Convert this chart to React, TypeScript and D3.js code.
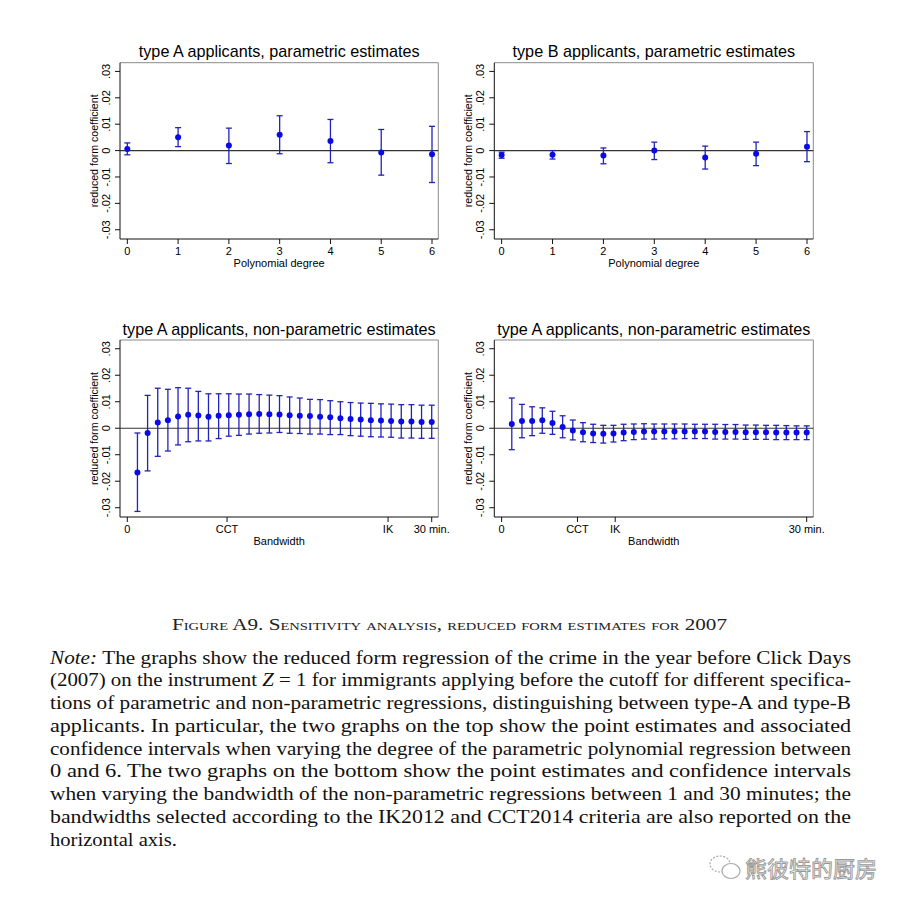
import React from "react";
import * as d3 from "d3";

// ---------- data ----------
const degrees = [0, 1, 2, 3, 4, 5, 6];
const paramA_est = [0.0006, 0.0051, 0.0019, 0.006, 0.0036, -0.0007, -0.0014];
const paramA_hi = [0.0029, 0.0087, 0.0085, 0.0132, 0.0118, 0.008, 0.0092];
const paramA_lo = [-0.0016, 0.0015, -0.0049, -0.0012, -0.0046, -0.0093, -0.0121];

const paramB_est = [-0.0017, -0.0016, -0.0019, 0.0, -0.0026, -0.0012, 0.0015];
const paramB_hi = [-0.0006, 0.0, 0.001, 0.0032, 0.0017, 0.0032, 0.0072];
const paramB_lo = [-0.0029, -0.0032, -0.005, -0.0034, -0.007, -0.0057, -0.0042];

const bandwidths = [1, 2, 3, 4, 5, 6, 7, 8, 9, 10, 11, 12, 13, 14, 15, 16, 17, 18, 19, 20, 21, 22, 23, 24, 25, 26, 27, 28, 29, 30];
const npA_est = [-0.0167, -0.0018, 0.0022, 0.003, 0.0044, 0.0051, 0.0048, 0.0043, 0.0047, 0.0049, 0.0051, 0.0053, 0.0054, 0.0053, 0.0052, 0.0049, 0.0047, 0.0046, 0.0043, 0.0041, 0.0038, 0.0035, 0.0033, 0.003, 0.0029, 0.0027, 0.0025, 0.0025, 0.0024, 0.0024];
const npA_hi = [-0.0018, 0.0124, 0.0151, 0.0147, 0.0153, 0.0151, 0.0139, 0.013, 0.013, 0.013, 0.0129, 0.0129, 0.0127, 0.0125, 0.0123, 0.0118, 0.0114, 0.0109, 0.0108, 0.0104, 0.01, 0.0097, 0.0095, 0.0094, 0.0092, 0.0091, 0.0089, 0.0089, 0.0087, 0.0087];
const npA_lo = [-0.0314, -0.0161, -0.0106, -0.0086, -0.0063, -0.0051, -0.0048, -0.0048, -0.0039, -0.003, -0.0027, -0.0022, -0.0019, -0.0018, -0.0016, -0.0019, -0.002, -0.0022, -0.0022, -0.0024, -0.0024, -0.0028, -0.003, -0.0032, -0.0033, -0.0034, -0.0037, -0.0037, -0.0038, -0.0038];

const npB_est = [0.0016, 0.0027, 0.0027, 0.003, 0.002, 0.0005, -0.0009, -0.0015, -0.002, -0.0021, -0.002, -0.0016, -0.0014, -0.0012, -0.0012, -0.0012, -0.0012, -0.0012, -0.0012, -0.0012, -0.0014, -0.0014, -0.0014, -0.0015, -0.0015, -0.0015, -0.0016, -0.0016, -0.0016, -0.0016];
const npB_hi = [0.0114, 0.009, 0.0081, 0.0077, 0.0064, 0.0047, 0.0031, 0.0021, 0.0015, 0.0011, 0.0011, 0.0015, 0.0016, 0.0017, 0.0016, 0.0016, 0.0016, 0.0016, 0.0015, 0.0015, 0.0015, 0.0014, 0.0014, 0.0012, 0.0012, 0.0011, 0.0011, 0.001, 0.0009, 0.0009];
const npB_lo = [-0.0081, -0.0036, -0.0028, -0.0019, -0.0023, -0.0036, -0.0044, -0.0051, -0.0054, -0.0056, -0.0052, -0.0047, -0.0043, -0.0041, -0.0041, -0.004, -0.004, -0.0039, -0.0039, -0.0039, -0.0041, -0.0041, -0.0041, -0.0042, -0.0042, -0.0042, -0.0043, -0.0043, -0.0043, -0.0043];

const yTicks = [-0.03, -0.02, -0.01, 0, 0.01, 0.02, 0.03];
const yTickLabels = ["-.03", "-.02", "-.01", "0", ".01", ".02", ".03"];
const degreeTickLabels = ["0", "1", "2", "3", "4", "5", "6"];
const npA_xTicks = [0, 9.83, 25.7, 30];
const npB_xTicks = [0, 7.46, 11.17, 30];
const bwTickLabels = ["0", "CCT", "IK", "30 min."];

const titles = [
  "type A applicants, parametric estimates",
  "type B applicants, parametric estimates",
  "type A applicants, non-parametric estimates",
  "type A applicants, non-parametric estimates",
];
const xLabels = ["Polynomial degree", "Bandwidth"];
const yLabel = "reduced form coefficient";

const caption = "Figure A9. Sensitivity analysis, reduced form estimates for 2007";
const noteLines = [
  "The graphs show the reduced form regression of the crime in the year before Click Days",
  "(2007) on the instrument |Z| = 1 for immigrants applying before the cutoff for different specifica-",
  "tions of parametric and non-parametric regressions, distinguishing between type-A and type-B",
  "applicants.  In particular, the two graphs on the top show the point estimates and associated",
  "confidence intervals when varying the degree of the parametric polynomial regression between",
  "0 and 6.  The two graphs on the bottom show the point estimates and confidence intervals",
  "when varying the bandwidth of the non-parametric regressions between 1 and 30 minutes; the",
  "bandwidths selected according to the IK2012 and CCT2014 criteria are also reported on the",
  "horizontal axis.",
];
const watermark = "熊彼特的厨房";

// ---------- components ----------
const SANS = "'Liberation Sans', Arial, Helvetica, sans-serif";
const SERIF = "'Liberation Serif', 'Times New Roman', serif";
const PT = "#0a0ae6";
const CI = "#2323b8";

type PanelProps = {
  x0: number; x1: number; y0: number; y1: number;
  title: string; xLabel: string;
  xDomain: [number, number];
  xTicks: number[]; xTickLabels: string[];
  xs: number[]; est: number[]; lo: number[]; hi: number[];
};

function Panel(p: PanelProps) {
  const x = d3.scaleLinear().domain(p.xDomain).range([p.x0, p.x1]);
  const y = d3.scaleLinear().domain([-0.0335, 0.0333]).range([p.y1, p.y0]);
  const cx = (p.x0 + p.x1) / 2;
  return (
    <g>
      <text x={cx} y={p.y0 - 5.5} textAnchor="middle" fontFamily={SANS} fontSize={16.2} fill="#000">{p.title}</text>
      {/* frame */}
      <line x1={p.x0} x2={p.x1} y1={p.y0} y2={p.y0} stroke="#8a8a8a" strokeWidth={1} />
      <line x1={p.x1} x2={p.x1} y1={p.y0} y2={p.y1} stroke="#8a8a8a" strokeWidth={1} />
      <line x1={p.x0} x2={p.x0} y1={p.y0} y2={p.y1} stroke="#111" strokeWidth={1} />
      <line x1={p.x0} x2={p.x1} y1={p.y1} y2={p.y1} stroke="#111" strokeWidth={1} />
      {/* y ticks */}
      {yTicks.map((t, i) => (
        <g key={"yt" + i}>
          <line x1={p.x0 - 5} x2={p.x0} y1={y(t)} y2={y(t)} stroke="#111" strokeWidth={1} />
          <text transform={`translate(${p.x0 - 10},${y(t)}) rotate(-90)`} textAnchor="middle" fontFamily={SANS} fontSize={11} fill="#000">{yTickLabels[i]}</text>
        </g>
      ))}
      <text transform={`translate(${p.x0 - 22},${(p.y0 + p.y1) / 2}) rotate(-90)`} textAnchor="middle" fontFamily={SANS} fontSize={10.6} fill="#000">{yLabel}</text>
      {/* x ticks */}
      {p.xTicks.map((t, i) => (
        <g key={"xt" + i}>
          <line x1={x(t)} x2={x(t)} y1={p.y1} y2={p.y1 + 5} stroke="#111" strokeWidth={1} />
          <text x={x(t)} y={p.y1 + 15.5} textAnchor="middle" fontFamily={SANS} fontSize={11} fill="#000">{p.xTickLabels[i]}</text>
        </g>
      ))}
      <text x={cx} y={p.y1 + 27.5} textAnchor="middle" fontFamily={SANS} fontSize={11} fill="#000">{p.xLabel}</text>
      {/* zero line */}
      <line x1={p.x0} x2={p.x1} y1={y(0)} y2={y(0)} stroke="#333" strokeWidth={1.1} />
      {/* CIs */}
      {p.xs.map((v, i) => {
        const xx = x(v);
        return (
          <g key={"ci" + i} stroke={CI} strokeWidth={1.3}>
            <line x1={xx} x2={xx} y1={y(p.hi[i])} y2={y(p.lo[i])} />
            <line x1={xx - 3} x2={xx + 3} y1={y(p.hi[i])} y2={y(p.hi[i])} />
            <line x1={xx - 3} x2={xx + 3} y1={y(p.lo[i])} y2={y(p.lo[i])} />
          </g>
        );
      })}
      {p.xs.map((v, i) => (
        <circle key={"pt" + i} cx={x(v)} cy={y(p.est[i])} r={3} fill={PT} />
      ))}
    </g>
  );
}

function NoteLine({ text, y, first, last }: { text: string; y: number; first: boolean; last: boolean }) {
  const parts = text.split("|");
  return (
    <text x={50} y={y} fontFamily={SERIF} fontSize={19} fill="#111"
      textLength={last ? 127 : 801} lengthAdjust="spacingAndGlyphs">
      {first && <tspan fontStyle="italic">Note: </tspan>}
      {parts.map((s, i) => (
        <tspan key={i} fontStyle={i % 2 === 1 ? "italic" : "normal"}>{s}</tspan>
      ))}
    </text>
  );
}

export default function App() {
  const top = { y0: 62.7, y1: 239 };
  const bot = { y0: 340, y1: 517 };
  const L = { x0: 120, x1: 438.3 };
  const R = { x0: 494.3, x1: 813.3 };
  const degDom: [number, number] = [-0.144, 6.124];
  const bwDom: [number, number] = [-0.72, 30.65];
  return (
    <svg width={907} height={909} style={{ position: "absolute", left: 0, top: 0, background: "#fff" }}>
      <rect width={907} height={909} fill="#fff" />
      <Panel {...L} {...top} title={titles[0]} xLabel={xLabels[0]} xDomain={degDom} xTicks={degrees} xTickLabels={degreeTickLabels}
        xs={degrees} est={paramA_est} lo={paramA_lo} hi={paramA_hi} />
      <Panel {...R} {...top} title={titles[1]} xLabel={xLabels[0]} xDomain={degDom} xTicks={degrees} xTickLabels={degreeTickLabels}
        xs={degrees} est={paramB_est} lo={paramB_lo} hi={paramB_hi} />
      <Panel {...L} {...bot} title={titles[2]} xLabel={xLabels[1]} xDomain={bwDom} xTicks={npA_xTicks} xTickLabels={bwTickLabels}
        xs={bandwidths} est={npA_est} lo={npA_lo} hi={npA_hi} />
      <Panel {...R} {...bot} title={titles[3]} xLabel={xLabels[1]} xDomain={bwDom} xTicks={npB_xTicks} xTickLabels={bwTickLabels}
        xs={bandwidths} est={npB_est} lo={npB_lo} hi={npB_hi} />

      <text x={449.5} y={629.5} textAnchor="middle" fontFamily={SERIF} fontSize={16} fill="#222"
        style={{ fontVariant: "small-caps" }} textLength={555} lengthAdjust="spacingAndGlyphs">{caption}</text>

      {noteLines.map((t, i) => (
        <NoteLine key={i} text={t} y={663.5 + i * 22.75} first={i === 0} last={i === noteLines.length - 1} />
      ))}

      {/* watermark */}
      <g stroke="#aaa" strokeWidth={1.2} fill="none">
        <ellipse cx={720} cy={864} rx={10} ry={8} strokeDasharray="2 1.5" />
        <ellipse cx={731} cy={871} rx={9} ry={7.5} fill="#fff" />
      </g>
      <text x={745} y={877} fontFamily="'Noto Sans CJK SC', sans-serif" fontSize={22} fill="#fff" stroke="#999" strokeWidth={0.9}>{watermark}</text>
    </svg>
  );
}
